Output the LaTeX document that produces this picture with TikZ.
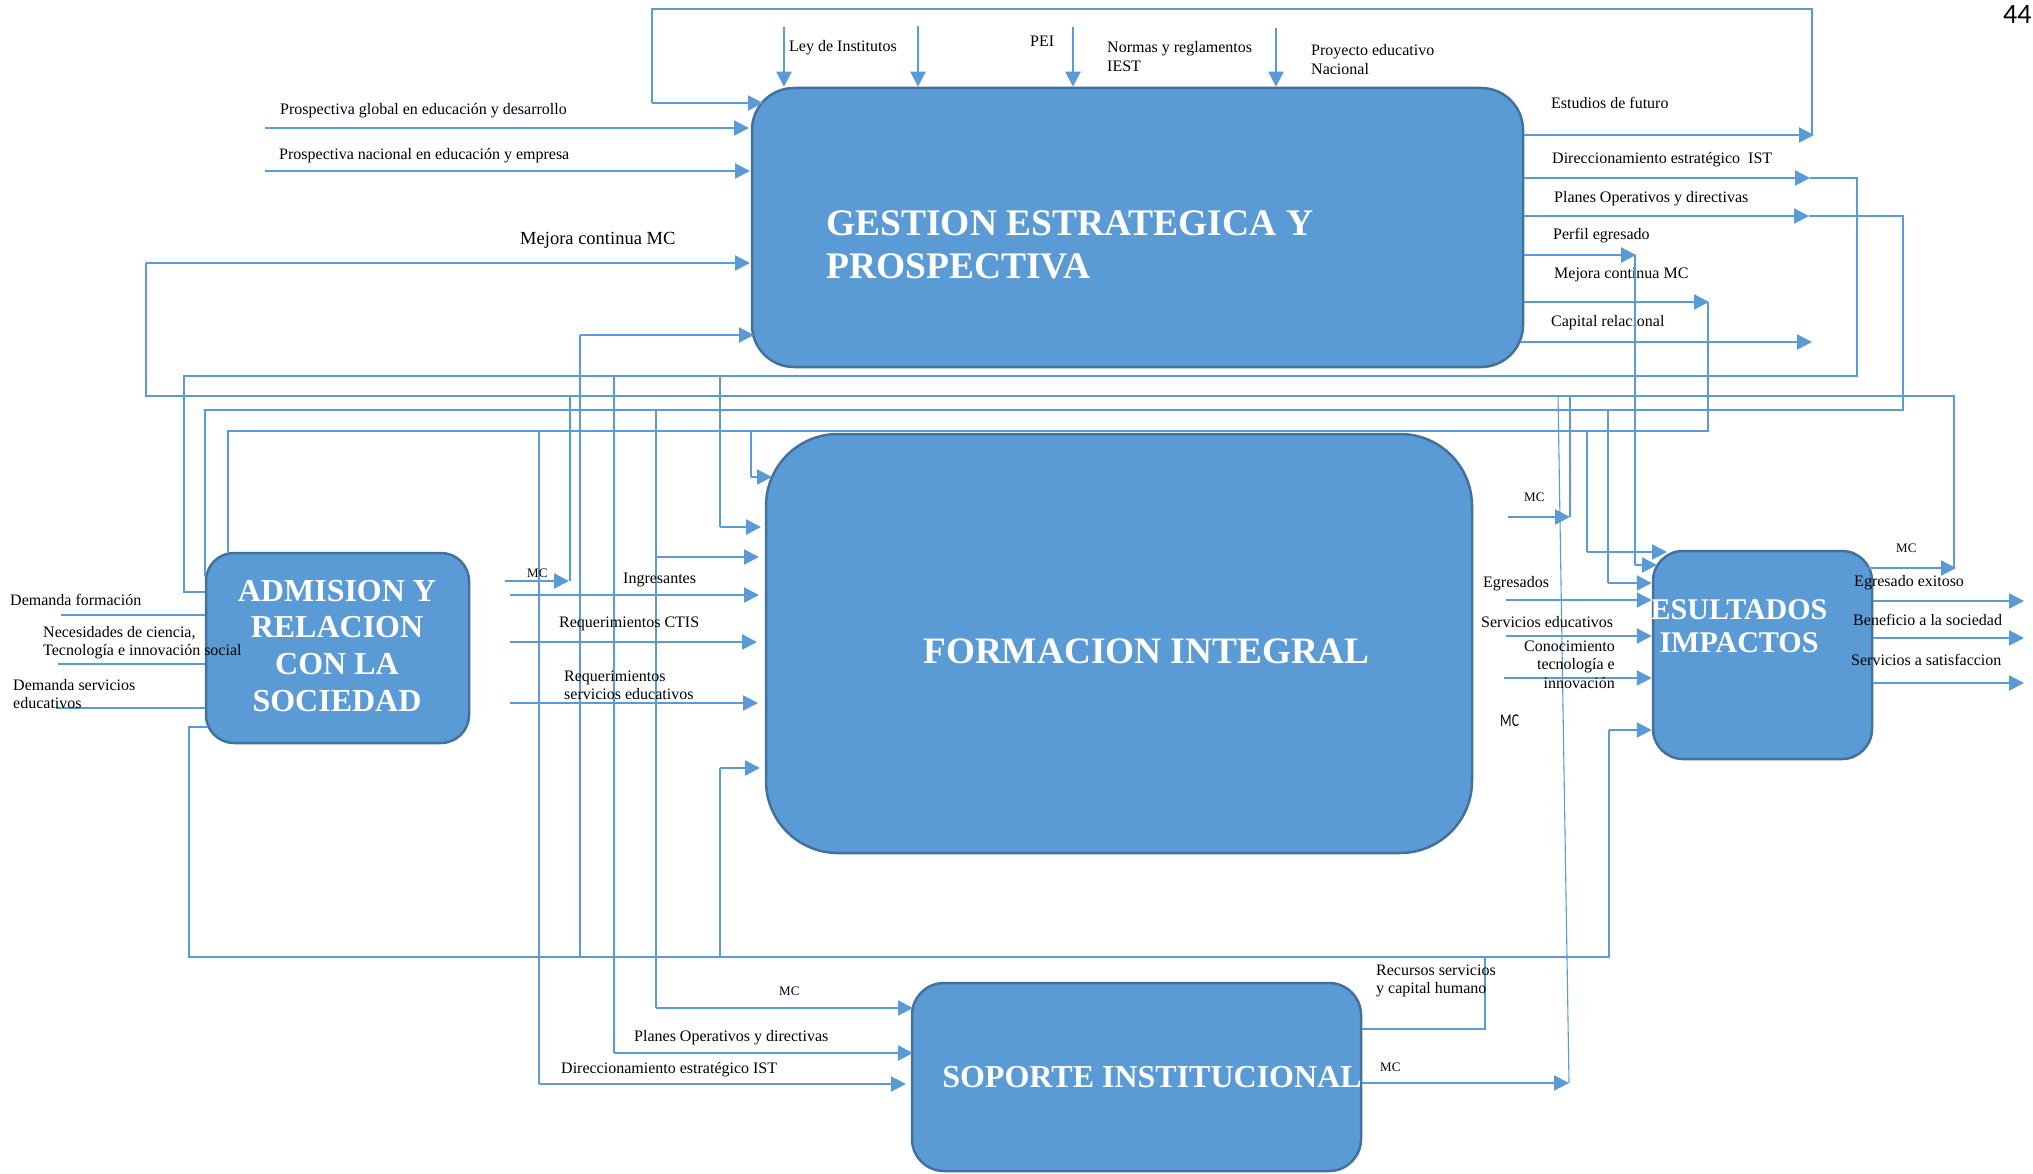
\documentclass[tikz,border=0pt]{standalone}
\usepackage{fontspec}
\setmainfont{Liberation Serif}
\newfontfamily\calfont{Carlito}
\usepackage{graphicx}
\usetikzlibrary{arrows.meta}
\definecolor{lineblue}{HTML}{5B9BD5}
\definecolor{boxblue}{HTML}{5B9BD5}
\definecolor{boxedge}{HTML}{41719C}
% multi-line labels whose anchor is the baseline of the first line
\newcommand\rowsl[1]{\begin{tabular}[t]{@{}l@{}}#1\end{tabular}}
\newcommand\rowsc[1]{\begin{tabular}[t]{@{}c@{}}#1\end{tabular}}
\newcommand\rowsr[1]{\begin{tabular}[t]{@{}r@{}}#1\end{tabular}}

\begin{document}
\begin{tikzpicture}[x=1pt,y=-1pt,
  wire/.style={draw=lineblue,line width=1.1pt},
  flow/.style={draw=lineblue,line width=2.2pt},
  tip/.style={-{Triangle[length=15pt,width=15pt]}},
  box/.style={draw=boxedge,fill=boxblue,line width=2.5pt,inner sep=0pt},
  lbl/.style={font=\fontsize{16}{18.5}\selectfont,inner sep=0pt,anchor=base west},
  sm/.style={font=\fontsize{13}{15}\selectfont,inner sep=0pt,anchor=base west},
  title/.style={text=white,inner sep=0pt}]
\useasboundingbox (0,0) rectangle (2033,1174);
\fill[white] (0,0) rectangle (2033,1174);

% ---------- process boxes ----------
\node[box,rounded corners=42pt,minimum width=771pt,minimum height=279pt] (gest) at (1137.5,227.5) {};
\node[box,rounded corners=72pt,minimum width=706pt,minimum height=419pt] (form) at (1119,643.5) {};
\node[box,rounded corners=28pt,minimum width=263pt,minimum height=190pt] (adm) at (337.5,648) {};
\node[box,rounded corners=30pt,minimum width=219pt,minimum height=208pt] (res) at (1762.5,655) {};
\node[box,rounded corners=32pt,minimum width=449pt,minimum height=188pt] (sop) at (1136.5,1077) {};

\node[title,anchor=base west,font=\fontsize{37.5}{43}\selectfont\bfseries] (gestT) at (826,236)
  {\rowsl{GESTION ESTRATEGICA Y\\PROSPECTIVA}};
\node[title,anchor=base west,font=\fontsize{37.3}{43}\selectfont\bfseries] (formT) at (923,663) {FORMACION INTEGRAL};
\node[title,anchor=base,font=\fontsize{32}{36.7}\selectfont\bfseries] (admT) at (337,601)
  {\rowsc{ADMISION Y\\RELACION\\CON LA\\SOCIEDAD}};
\node[title,anchor=base,font=\fontsize{30}{33}\selectfont\bfseries] (resT) at (1739,619)
  {\rowsc{ESULTADOS\\IMPACTOS}};
\node[title,anchor=base,font=\fontsize{32}{36}\selectfont\bfseries] (sopT) at (1152,1087) {SOPORTE INSTITUCIONAL};

% ---------- inputs from above ----------
\draw[flow,tip] (784,27) -- (gest.north -| 784,0);
\draw[flow,tip] (918,26) -- (gest.north -| 918,0);
\draw[flow,tip] (1073,27) -- (gest.north -| 1073,0);
\draw[flow,tip] (1276,28) -- (gest.north -| 1276,0);
\node[lbl] (lLey) at (789,52) {Ley de Institutos};
\node[lbl] (lPei) at (1030,47) {PEI};
\node[lbl,font=\fontsize{16}{19}\selectfont] (lNorm) at (1107,53) {\rowsl{Normas y reglamentos\\IEST}};
\node[lbl,font=\fontsize{16}{19}\selectfont] (lProy) at (1311,56) {\rowsl{Proyecto educativo\\Nacional}};

% ---------- inputs from the left of the strategic box ----------
\draw[wire] (1812,135) |- (652,9) -- (652,103);
\draw[flow,tip] (652,103) -- (763,103);
\draw[flow,tip] (265,128) -- (749,128);
\draw[flow,tip] (265,171) -- (750,171);
\draw[flow,tip] (146,263) -- (750,263);
\draw[flow,tip] (580,335) -- (754,335);
\node[lbl] (lPglob) at (280,115) {Prospectiva global en educación y desarrollo};
\node[lbl] (lPnac) at (279,160) {Prospectiva nacional en educación y empresa};
\node[lbl,font=\fontsize{18.5}{20}\selectfont] (lMej) at (520,245) {Mejora continua MC};

% ---------- outputs of the strategic box ----------
\draw[flow,tip] (gest.east |- 0,135) -- (1814,135);
\draw[flow,tip] (gest.east |- 0,178) -- (1810,178);
\draw[flow,tip] (gest.east |- 0,216) -- (1809,216);
\draw[flow,tip] (gest.east |- 0,255) -- (1636,255);
\draw[flow,tip] (gest.east |- 0,302) -- (1709,302);
\draw[flow,tip] (1520,342) -- (1812,342);
\node[lbl] (lEst) at (1551,109) {Estudios de futuro};
\node[lbl] (lDir) at (1552,164) {Direccionamiento estratégico\ \ IST};
\node[lbl] (lPlan) at (1554,203) {Planes Operativos y directivas};
\node[lbl] (lPerf) at (1553,240) {Perfil egresado};
\node[lbl] (lMejR) at (1554,278) {Mejora continua MC};
\node[lbl] (lCap) at (1551,326) {Capital relacional};

% ---------- distribution lines ----------
% strategic direction
\draw[wire] (1810,178) -| (1857,376) -- (184,376) -- (184,592) -- (adm.west |- 0,592);
\draw[wire] (614,376) -- (614,1053);
\draw[wire] (720,376) -- (720,527);
% continuous improvement feedback
\draw[wire] (1954,568) -- (1954,396) -- (146,396) -- (146,263);
\draw[wire] (570,396) -- (570,581);
\draw[wire] (1558,396) -- (1569,1083);
\draw[wire] (1570,396) -- (1570,517);
% operating plans
\draw[wire] (1809,216) -| (1903,410) -- (205,410) -- (205,576);
\draw[wire] (656,410) -- (656,1008);
\draw[wire] (1608,410) -- (1608,583);
% improvement from strategy
\draw[wire] (1708,302) -- (1708,431) -- (228,431) -- (adm.north -| 228,0);
\draw[wire] (539,431) -- (539,1084);
\draw[wire] (751,431) -- (751,477);
\draw[wire] (1587,431) -- (1587,552);
% graduate profile
\draw[wire] (1635,255) -- (1635,565);
% lower return line
\draw[wire] (208,727) -- (189,727) -- (189,957) -- (1609,957) -- (1609,730);
\draw[wire] (580,957) -- (580,335);
\draw[wire] (720,957) -- (720,768);
\draw[wire] (sop.east |- 0,1029) -- (1485,1029) -- (1485,957);

% ---------- arrows into the training box ----------
\draw[flow,tip] (751,477) -- (772,477);
\draw[flow,tip] (720,527) -- (761,527);
\draw[flow,tip] (656,557) -- (759,557);
\draw[flow,tip] (720,768) -- (760,768);

% ---------- admission box ----------
\draw[flow] (61,615) -- (adm.west |- 0,615);
\draw[flow] (58,664) -- (adm.west |- 0,664);
\draw[flow] (56,708) -- (adm.west |- 0,708);
\node[lbl] (lDemF) at (10,605) {Demanda formación};
\node[lbl,font=\fontsize{16}{18}\selectfont] (lNec) at (43,637) {\rowsl{Necesidades de ciencia,\\Tecnología e innovación social}};
\node[lbl,font=\fontsize{16}{18}\selectfont] (lDemS) at (13,690) {\rowsl{Demanda servicios\\educativos}};
\draw[flow,tip] (505,581) -- (569,581);
\draw[flow,tip] (510,595) -- (759,595);
\draw[flow,tip] (510,642) -- (757,642);
\draw[flow,tip] (510,703) -- (758,703);
\node[sm] (lMcA) at (527,577) {MC};
\node[lbl] (lIng) at (623,583) {Ingresantes};
\node[lbl] (lCtis) at (559,627) {Requerimientos CTIS};
\node[lbl,font=\fontsize{16}{18}\selectfont] (lReq) at (564,681) {\rowsl{Requerimientos\\servicios educativos}};

% ---------- results box ----------
\draw[flow,tip] (1508,517) -- (1570,517);
\draw[flow,tip] (1587,552) -- (1667,552);
\draw[flow,tip] (1635,565) -- (1657,565);
\draw[flow,tip] (1608,583) -- (res.west |- 0,583);
\draw[flow,tip] (1506,600) -- (res.west |- 0,600);
\draw[flow,tip] (1506,636) -- (res.west |- 0,636);
\draw[flow,tip] (1504,678) -- (res.west |- 0,678);
\draw[flow,tip] (1609,730) -- (res.west |- 0,730);
\node[sm] (lMcF) at (1524,501) {MC};
\node[lbl] (lEgr) at (1483,587) {Egresados};
\node[lbl] (lServ) at (1481,627) {Servicios educativos};
\node[lbl,anchor=base east] (lCon) at (1615,651) {\rowsr{Conocimiento\\tecnología e\\innovación}};
\node[inner sep=0pt,anchor=base west,font=\calfont\fontsize{18}{20}\selectfont] (lMcBig) at (1500,726) {\scalebox{0.75}[1]{MC}};

\draw[flow,tip] (1868,568) -- (1956,568);
\draw[flow,tip] (res.east |- 0,601) -- (2024,601);
\draw[flow,tip] (res.east |- 0,638) -- (2024,638);
\draw[flow,tip] (res.east |- 0,683) -- (2024,683);
\node[sm] (lMcR) at (1896,552) {MC};
\node[lbl] (lExit) at (1854,586) {Egresado exitoso};
\node[lbl] (lBen) at (1853,625) {Beneficio a la sociedad};
\node[lbl] (lSat) at (1851,665) {Servicios a satisfaccion};

% ---------- institutional support box ----------
\draw[flow,tip] (656,1008) -- (913,1008);
\draw[flow,tip] (614,1053) -- (913,1053);
\draw[flow,tip] (539,1084) -- (906,1084);
\draw[flow,tip] (sop.east |- 0,1083) -- (1569,1083);
\node[sm] (lMcS) at (779,995) {MC};
\node[lbl] (lPlanS) at (634,1041) {Planes Operativos y directivas};
\node[lbl] (lDirS) at (561,1073) {Direccionamiento estratégico IST};
\node[lbl,font=\fontsize{16}{18}\selectfont] (lRec) at (1376,975) {\rowsl{Recursos servicios\\y capital humano}};
\node[sm] (lMcS2) at (1380,1071) {MC};

% page number
\node[inner sep=0pt,anchor=base west,font=\calfont\fontsize{28}{30}\selectfont] (page) at (2003,24) {44};
\end{tikzpicture}
\end{document}
